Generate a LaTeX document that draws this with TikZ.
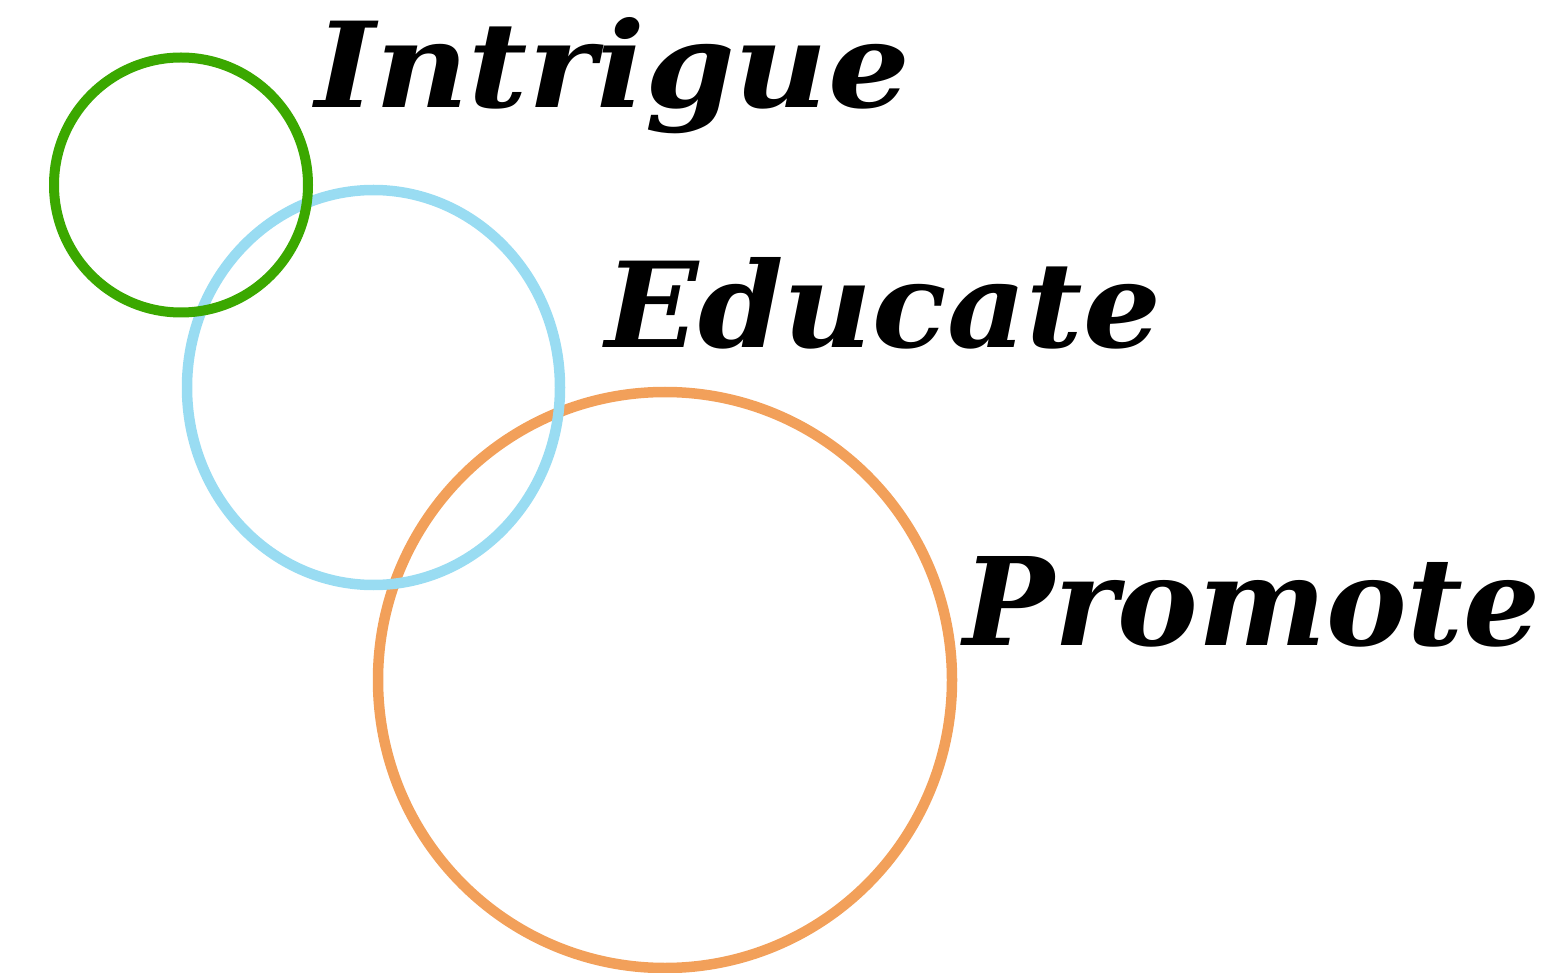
\documentclass[tikz,border=0pt]{standalone}
\usepackage{fontspec}
\usepackage{graphicx}
\newfontfamily\wordfont{DejaVu Serif}
\definecolor{ringgreen}{HTML}{3BA800}
\definecolor{ringblue}{HTML}{99DCF2}
\definecolor{ringorange}{HTML}{F2A05A}
\tikzset{
  ring/.style={line width=10.5pt},
  word/.style={anchor=base west, inner sep=0pt, font=\wordfont\bfseries\itshape}
}
\begin{document}
\begin{tikzpicture}[x=1pt,y=-1pt]
  \useasboundingbox (0,0) rectangle (1551,973);
  % rings, largest underneath
  \draw[ring, ringorange] (665,680) ellipse [x radius=287, y radius=288];
  \draw[ring, ringblue] (373.5,387.5) ellipse [x radius=186.5, y radius=197.5];
  \draw[ring, ringgreen, line width=10pt] (181,185) ellipse [x radius=127, y radius=127.5];
  % words
  \node[word] (intrigue) at (315,108) {\resizebox{595pt}{90pt}{Intrigue}};
  \node[word] (educate) at (605,348) {\resizebox{555pt}{90pt}{Educate}};
  \node[word] (promote) at (963,645) {\resizebox{577pt}{89pt}{Promote}};
\end{tikzpicture}
\end{document}
